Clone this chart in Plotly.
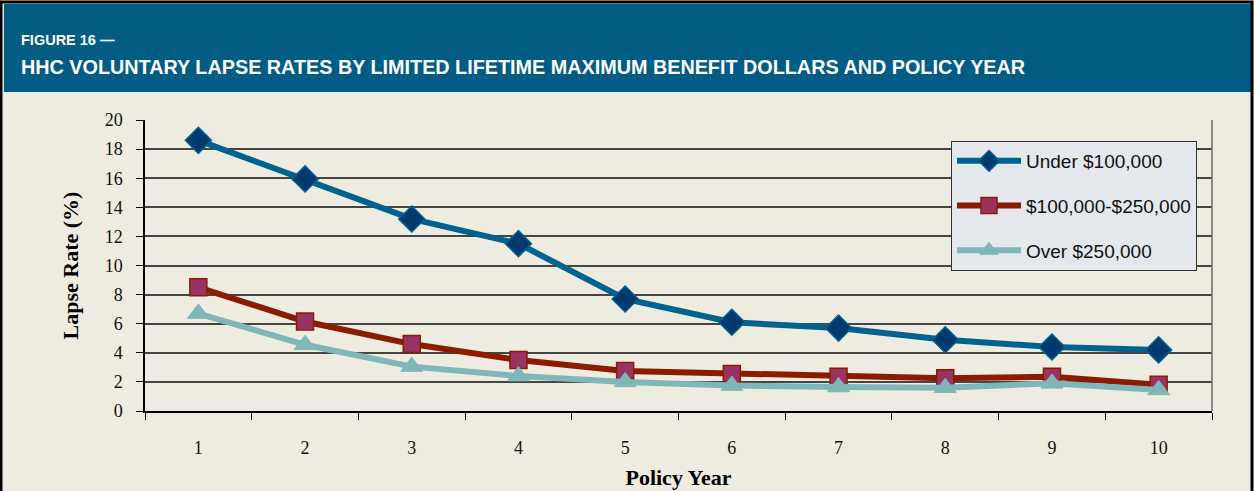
import plotly.graph_objects as go

years = ["1", "2", "3", "4", "5", "6", "7", "8", "9", "10"]
under_100k = [18.6, 15.95, 13.2, 11.5, 7.7, 6.1, 5.7, 4.9, 4.4, 4.2]
mid_100k_250k = [8.5, 6.15, 4.6, 3.5, 2.75, 2.55, 2.35, 2.25, 2.35, 1.8]
over_250k = [6.7, 4.55, 3.05, 2.4, 2.0, 1.75, 1.65, 1.6, 1.9, 1.45]

series_names = ["Under $100,000", "$100,000-$250,000", "Over $250,000"]
y_ticks = [0, 2, 4, 6, 8, 10, 12, 14, 16, 18, 20]

W, H = 1254, 491
L, R, T, B = 145, 42, 120, 80
pw, ph = W - L - R, H - T - B

def px_x(x):
    return (x - L) / pw

def px_y(y):
    return (H - B - y) / ph

BG = "#EEEBE0"
HEADER = "#025C84"

fig = go.Figure()
fig.add_trace(go.Scatter(
    x=years, y=under_100k, name=series_names[0], mode="lines+markers", legendgroup="a",
    line=dict(color="#00628F", width=6),
    marker=dict(symbol="diamond", size=20, color="#003A6C", line=dict(color="#00628F", width=1.5)),
))
fig.add_trace(go.Scatter(
    x=years, y=mid_100k_250k, name=series_names[1], mode="lines+markers", legendgroup="b",
    line=dict(color="#8B1C02", width=6),
    marker=dict(symbol="square", size=17, color="#9A3262", line=dict(color="#8B1C02", width=1.5)),
))
fig.add_trace(go.Scatter(
    x=years, y=over_250k, name=series_names[2], mode="lines+markers", legendgroup="c",
    line=dict(color="#7FB7B8", width=6),
    marker=dict(symbol="triangle-up", size=19, color="#7FB7B8", line=dict(color="#7FB7B8", width=1)),
))

shapes = [
    dict(type="rect", xref="paper", yref="paper", x0=px_x(4), x1=px_x(1251), y0=px_y(92), y1=px_y(4),
         fillcolor=HEADER, line=dict(width=0), layer="below"),
    dict(type="rect", xref="paper", yref="paper", x0=px_x(1), x1=px_x(1252), y0=px_y(510), y1=px_y(2),
         fillcolor="rgba(0,0,0,0)", line=dict(color="black", width=3)),
    dict(type="line", xref="paper", yref="paper", x0=1, x1=1, y0=0, y1=1,
         line=dict(color="#6E6E6E", width=1.5)),
]

annotations = [
    dict(text="<b>FIGURE 16 —</b>", xref="paper", yref="paper", x=px_x(19), y=px_y(40),
         xanchor="left", yanchor="middle", showarrow=False,
         font=dict(family="Liberation Sans", size=14.5, color="white")),
    dict(text="<b>HHC VOLUNTARY LAPSE RATES BY LIMITED LIFETIME MAXIMUM BENEFIT DOLLARS AND POLICY YEAR</b>",
         xref="paper", yref="paper", x=px_x(19), y=px_y(67),
         xanchor="left", yanchor="middle", showarrow=False,
         font=dict(family="Liberation Sans", size=19.8, color="white")),
]

fig.update_layout(
    width=W, height=H,
    margin=dict(l=L, r=R, t=T, b=B),
    paper_bgcolor=BG, plot_bgcolor=BG,
    showlegend=True,
    legend=dict(
        x=px_x(951), y=px_y(141), xanchor="left", yanchor="top",
        bgcolor="#E4E8EC", bordercolor="#333333", borderwidth=1,
        font=dict(family="Liberation Sans, Arial", size=19, color="#111111"),
        itemwidth=64, tracegroupgap=17, itemsizing="trace",
    ),
    shapes=shapes,
    annotations=annotations,
    xaxis=dict(
        type="category", range=[-0.5, 9.5], autorange=False, automargin=False,
        tickson="boundaries", ticks="outside", ticklen=7, tickcolor="black",
        showline=True, linecolor="black", linewidth=1.5, showgrid=False, zeroline=False,
        tickfont=dict(family="Liberation Serif, Times New Roman", size=18, color="#111111"),
        ticklabelstandoff=20,
        title=dict(text="<b>Policy Year</b>", standoff=12,
                   font=dict(family="Liberation Serif, Times New Roman", size=22, color="black")),
    ),
    yaxis=dict(
        range=[0, 20], autorange=False, automargin=False,
        tickvals=y_ticks, ticks="outside", ticklen=7, tickcolor="black",
        showline=True, linecolor="black", linewidth=1.5,
        showgrid=True, gridcolor="#454545", gridwidth=1.5, zeroline=False,
        tickfont=dict(family="Liberation Serif, Times New Roman", size=18, color="#111111"),
        ticklabelstandoff=10,
        title=dict(text="<b>Lapse Rate (%)</b>", standoff=20,
                   font=dict(family="Liberation Serif, Times New Roman", size=22, color="black")),
    ),
)

fig.write_html("out.html", config={"displayModeBar": False},
               post_script="document.body.style.margin='0';document.body.style.overflow='hidden';")
